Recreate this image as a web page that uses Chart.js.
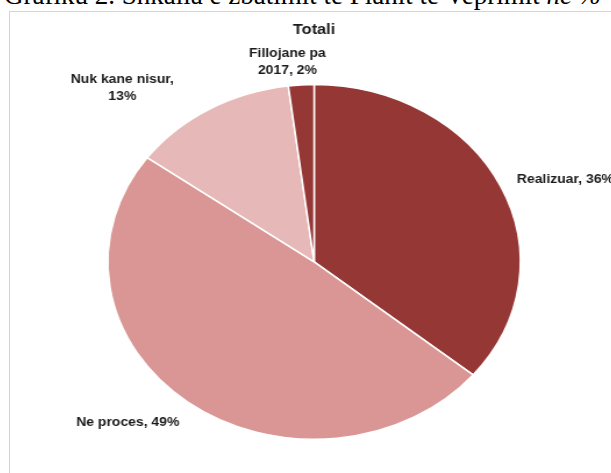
<!DOCTYPE html>
<html>
<head>
<meta charset="utf-8">
<script src="https://cdn.jsdelivr.net/npm/chart.js@4"></script>
<style>
  body { margin: 0; background: #fff; width: 611px; height: 473px; overflow: hidden; position: relative; }
  #cap { position: absolute; left: 4px; top: -20px; font: 27px "Liberation Serif"; white-space: nowrap; color: #000; }
  #box { position: absolute; left: 9px; top: 11px; width: 700px; height: 600px; border: 1px solid #d4d4d4; }
  #wrap { position: absolute; left: 10px; top: 12px; width: 517px; height: 461px; transform: scaleX(1.163); transform-origin: 0 0; }
</style>
</head>
<body>
<div id="cap">Grafiku 2. Shkalla e zbatimit të Planit të Veprimit <i>në %</i></div>
<div id="box"></div>
<div id="wrap"><canvas id="myChart" width="517" height="461"></canvas></div>
<script>
// data
const categories = ["Realizuar", "Ne proces", "Nuk kane nisur", "Fillojane pa 2017"];
const values = [36, 49, 13, 2];
const colors = ["#953735", "#d99694", "#e6b9b8", "#953735"];

// label placement tweaks (px), same order as categories
const nudge = [[7, 2], [-17, 4], [-46, 4], [-9, 6]];
const lineH = 17;

function wrapText(ctx, text, maxW) {
  const words = text.split(" ");
  const lines = [];
  let cur = "";
  words.forEach((w) => {
    const test = cur ? cur + " " + w : w;
    if (cur && ctx.measureText(test).width > maxW) {
      lines.push(cur);
      cur = w;
    } else {
      cur = test;
    }
  });
  lines.push(cur);
  return lines;
}

// draws the "Name, xx%" labels outside the slices
const pieLabels = {
  id: "pieLabels",
  afterDatasetsDraw(chart) {
    const ctx = chart.ctx;
    const meta = chart.getDatasetMeta(0);
    ctx.save();
    ctx.font = "bold 12px 'Liberation Sans'";
    ctx.fillStyle = "#1a1a1a";
    ctx.textAlign = "center";
    ctx.textBaseline = "middle";
    meta.data.forEach((arc, i) => {
      const p = arc.getProps(["x", "y", "startAngle", "endAngle", "outerRadius"], true);
      const mid = (p.startAngle + p.endAngle) / 2;
      const dx = Math.cos(mid);
      const dy = Math.sin(mid);
      const lines = wrapText(ctx, categories[i] + ", " + values[i] + "%", 96);
      const w = Math.max(...lines.map((l) => ctx.measureText(l).width));
      const h = lines.length * lineH;
      const cx = p.x + dx * (p.outerRadius + 12) + (dx * w) / 2 + nudge[i][0];
      const cy = p.y + dy * (p.outerRadius + 12) + (dy * h) / 2 + nudge[i][1];
      lines.forEach((l, k) => {
        ctx.fillText(l, cx, cy - h / 2 + lineH / 2 + k * lineH);
      });
    });
    ctx.restore();
  },
};

new Chart("myChart", {
  type: "pie",
  data: {
    labels: categories,
    datasets: [
      {
        data: values,
        backgroundColor: colors,
        borderColor: "#ffffff",
        borderWidth: 1.5,
      },
    ],
  },
  options: {
    responsive: false,
    animation: false,
    layout: {
      padding: { top: 6, left: 60, right: 54, bottom: 33 },
    },
    plugins: {
      legend: { display: false },
      tooltip: { enabled: false },
      title: {
        display: true,
        text: "Totali",
        color: "#1a1a1a",
        font: { family: "Liberation Sans", size: 14, weight: "bold" },
        padding: { top: 4, bottom: 45 },
      },
    },
  },
  plugins: [pieLabels],
});
</script>
</body>
</html>
